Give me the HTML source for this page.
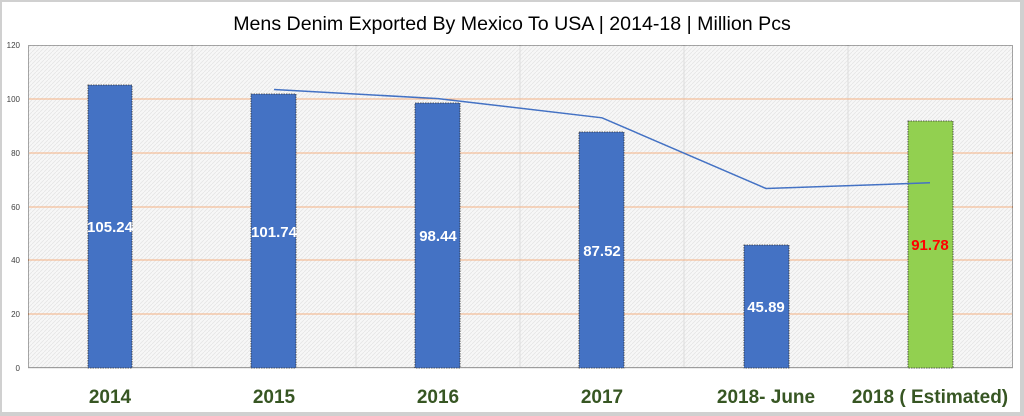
<!DOCTYPE html>
<html><head><style>
body{margin:0;background:#fff;}
svg{display:block;}
</style></head><body>
<svg width="1024" height="416" viewBox="0 0 1024 416" xmlns="http://www.w3.org/2000/svg" font-family="Liberation Sans, sans-serif">
<defs>
<pattern id="h" width="4" height="4" patternUnits="userSpaceOnUse">
<rect width="4" height="4" fill="#f7f7f7"/>
<path d="M0 4L4 0" stroke="#e6e6e6" stroke-width="0.8"/>
</pattern>
</defs>
<rect x="0" y="0" width="1024" height="416" fill="#fff"/>
<rect x="0" y="0" width="1024" height="2" fill="#d0d0d0"/>
<rect x="0" y="0" width="2" height="416" fill="#d0d0d0"/>
<rect x="1020" y="0" width="4" height="416" fill="#d0d0d0"/>
<rect x="0" y="412" width="1024" height="4" fill="#d0d0d0"/>
<text x="512" y="30" text-anchor="middle" font-size="19.6" fill="#000">Mens Denim Exported By Mexico To USA | 2014-18 | Million Pcs</text>
<rect x="28" y="45" width="985" height="323" fill="url(#h)"/>
<g stroke="#dcdcdc" stroke-width="1">
<line x1="192" y1="45" x2="192" y2="368"/><line x1="356" y1="45" x2="356" y2="368"/><line x1="520" y1="45" x2="520" y2="368"/><line x1="684" y1="45" x2="684" y2="368"/><line x1="848" y1="45" x2="848" y2="368"/>
</g>
<g stroke="#f4b183" stroke-width="1">
<line x1="28" y1="99" x2="1013" y2="99"/><line x1="28" y1="153" x2="1013" y2="153"/><line x1="28" y1="207" x2="1013" y2="207"/><line x1="28" y1="260" x2="1013" y2="260"/><line x1="28" y1="314" x2="1013" y2="314"/>
</g>
<line x1="28" y1="368" x2="1013" y2="368" stroke="#d9d9d9"/>
<rect x="28.5" y="45.5" width="984" height="322" fill="none" stroke="#555" stroke-dasharray="1,1"/>
<g font-size="8" fill="#404040" text-anchor="end">
<text x="20" y="48">120</text><text x="20" y="102">100</text><text x="20" y="156">80</text><text x="20" y="210">60</text><text x="20" y="263">40</text><text x="20" y="317">20</text><text x="20" y="371">0</text>
</g>
<g stroke="#333" stroke-width="0.8" stroke-dasharray="1.5,1">
<rect x="88" y="85" width="44" height="283" fill="#4472c4"/>
<rect x="251" y="94" width="45" height="274" fill="#4472c4"/>
<rect x="415" y="103" width="45" height="265" fill="#4472c4"/>
<rect x="579" y="132" width="45" height="236" fill="#4472c4"/>
<rect x="744" y="245" width="45" height="123" fill="#4472c4"/>
<rect x="908" y="121" width="45" height="247" fill="#92d050"/>
</g>
<polyline points="274,89.5 438,98.6 602,117.8 766,188.5 930,182.8" fill="none" stroke="#4472c4" stroke-width="1.5"/>
<g font-size="15" font-weight="bold" fill="#fff" text-anchor="middle">
<text x="110" y="232">105.24</text><text x="274" y="237">101.74</text><text x="438" y="241">98.44</text><text x="602" y="256">87.52</text><text x="766" y="312">45.89</text>
<text x="930" y="250" fill="#ff0000">91.78</text>
</g>
<g font-size="19" font-weight="bold" fill="#375623" text-anchor="middle">
<text x="110" y="403">2014</text><text x="274" y="403">2015</text><text x="438" y="403">2016</text><text x="602" y="403">2017</text><text x="766" y="403">2018- June</text><text x="930" y="403">2018 ( Estimated)</text>
</g>
</svg>
</body></html>
